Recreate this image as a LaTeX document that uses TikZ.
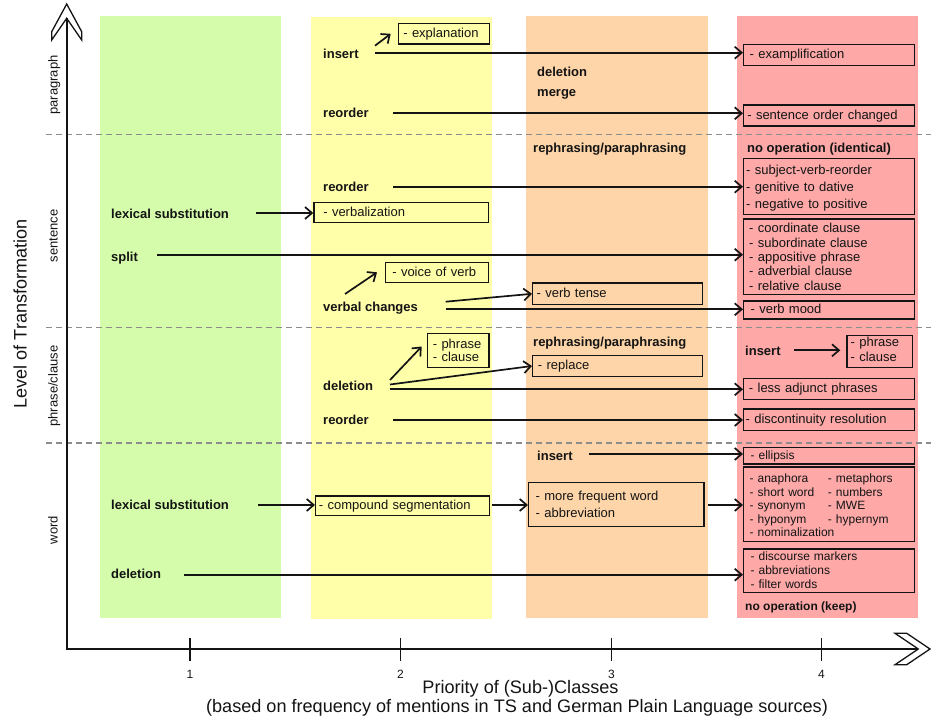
\documentclass[tikz,border=0pt]{standalone}
\usepackage{fontspec}
\setmainfont{Liberation Sans}
\usetikzlibrary{arrows.meta}

\definecolor{bandgreen}{RGB}{213,252,171}
\definecolor{bandyellow}{RGB}{255,255,170}
\definecolor{bandorange}{RGB}{254,213,168}
\definecolor{bandred}{RGB}{254,168,168}
\definecolor{ink}{RGB}{20,20,20}
\definecolor{sepgray}{RGB}{140,140,140}

\tikzset{
  op/.style={anchor=west, inner sep=0pt, text=ink, yshift=-2.5pt,
    font=\fontsize{13}{15.6}\selectfont\bfseries, text height=.75em, text depth=.15em},
  opsm/.style={op, font=\fontsize{12}{14.4}\selectfont\bfseries},
  leaf/.style={draw=ink, line width=1.3pt, anchor=north west, inner ysep=0pt,
    align=left, text=ink, font=\fontsize{13}{15.6}\selectfont},
  oneline/.style={text height=.9em, text depth=.12em},
  flow/.style={draw=ink, line width=1.7pt, -{Straight Barb[length=7pt,width=12pt]}},
  levelsep/.style={draw=sepgray, line width=1.2pt, dash pattern=on 6pt off 4pt},
  axisline/.style={draw=ink, line width=1.8pt},
  axishead/.style={draw=ink, line width=1.3pt, line join=miter},
  tickmark/.style={draw=ink, line width=1.5pt},
  level/.style={rotate=90, anchor=base, inner sep=0pt, text=ink,
    font=\fontsize{13}{15.6}\selectfont},
  ticklabel/.style={anchor=base, inner sep=0pt, text=ink, font=\fontsize{12}{14}\selectfont},
  axistitle/.style={inner sep=0pt, text=ink, font=\fontsize{18.1}{18.5}\selectfont}
}

\begin{document}
\begin{tikzpicture}[x=1pt,y=-1pt]
\useasboundingbox (0,0) rectangle (931,719);

% priority bands
\fill[bandgreen]  (100,16) rectangle (281,618);
\fill[bandyellow] (311,17) rectangle (492,619);
\fill[bandorange] (526,16) rectangle (708,618);
\fill[bandred]    (737,16) rectangle (918,618);

% level separators
\draw[levelsep] (46,134.5) -- (931,134.5);
\draw[levelsep] (46,327.5) -- (931,327.5);
\draw[levelsep] (46,443)   -- (931,443);

% axes
\coordinate (O) at (66.7,649);
\coordinate (ytip) at (66.7,18.3);
\coordinate (xtip) at (918.3,649);
\draw[axisline] (ytip) -- (O) -- (xtip);
\draw[axishead] (66.7,4) -- (81.7,31.7) -- (81.7,40) -- (66.7,18.3)
  -- (51.7,40) -- (51.7,31.7) -- cycle;
\draw[axishead] (930,649) -- (906.7,633.3) -- (895,633.3) -- (918.3,649)
  -- (895,664.7) -- (906.7,664.7) -- cycle;

% ticks and tick labels
\foreach \x/\n in {190/1, 400.5/2, 611.5/3, 821.5/4} {
  \draw[tickmark] (\x,638) -- (\x,661);
  \node[ticklabel] (tick\n) at (\x,678.5) {\n};
}

% axis titles
\node[axistitle, rotate=90, anchor=base] (ytitle) at (26.7,314) {Level of Transformation};
\node[axistitle, align=center] (xtitle) at (517,698.5)
  {\hspace*{7pt}Priority of (Sub-)Classes\\(based on frequency of mentions in TS and German Plain Language sources)};

% level names
\node[level] (lvP) at (57.5,85)  {paragraph};
\node[level] (lvS) at (57.5,236) {sentence};
\node[level] (lvC) at (57.5,386) {phrase/clause};
\node[level] (lvW) at (57.5,530) {word};

% ---------- paragraph ----------
\node[op] (insP)  at (323,53)    {insert};
\node[op] (delP)  at (537,70.7)  {deletion};
\node[op] (merge) at (537,90.7)  {merge};
\node[op] (reoP)  at (323,111.7) {reorder};

\node[leaf, oneline, inner xsep=5, minimum width=91.3, minimum height=20.3, text width=81.3]
  (expl) at (397.7,23) {- explanation};
\node[leaf, oneline, inner xsep=6, minimum width=171, minimum height=20.7, text width=159]
  (exampl) at (743,44) {- examplification};
\node[leaf, oneline, inner xsep=3.7, minimum width=171, minimum height=21, text width=163.6]
  (sentord) at (743,104.3) {- sentence order changed};

% ---------- sentence ----------
\node[op] (rephS) at (533,146.7) {rephrasing/paraphrasing};
\node[op] (noopS) at (747,146.7) {no operation (identical)};
\node[op] (reoS)  at (323,185.7) {reorder};
\node[op] (lexS)  at (111,212.7) {lexical substitution};
\node[op] (split) at (111,255.7) {split};
\node[op] (verbc) at (323,305.7) {verbal changes};

\node[leaf, inner xsep=2.5, minimum width=171, minimum height=56, text width=166,
  text height=10pt, text depth=33.7pt, font=\fontsize{13}{17}\selectfont]
  (svr) at (743,157.7) {- subject-verb-reorder\\- genitive to dative\\- negative to positive};
\node[leaf, oneline, inner xsep=9.4, minimum width=174.4, minimum height=20, text width=155.6]
  (verbal) at (313.3,201.7) {- verbalization};
\node[leaf, inner xsep=5.5, minimum width=171, minimum height=75.7, text width=160,
  font=\fontsize{13}{14.3}\selectfont]
  (clauses) at (743,218.3) {- coordinate clause\\- subordinate clause\\- appositive phrase\\- adverbial clause\\- relative clause};
\node[leaf, oneline, inner xsep=6.7, minimum width=102.7, minimum height=20, text width=89.3]
  (voice) at (385,261.7) {- voice of verb};
\node[leaf, oneline, inner xsep=4, minimum width=169.7, minimum height=21.7, text width=161.7]
  (tense) at (532,282.3) {- verb tense};
\node[leaf, oneline, inner xsep=7, minimum width=171, minimum height=18, text width=157]
  (mood) at (743,300.3) {- verb mood};

% ---------- phrase/clause ----------
\node[op] (rephC) at (533,340.7) {rephrasing/paraphrasing};
\node[op] (delC)  at (323,384.7) {deletion};
\node[op] (insC)  at (745,349.7) {insert};
\node[op] (reoC)  at (323,418.7) {reorder};

\node[leaf, inner xsep=5.5, minimum width=61.6, minimum height=34.3, text width=50.6,
  font=\fontsize{13}{13}\selectfont]
  (phcl1) at (426.7,332.7) {- phrase\\- clause};
\node[leaf, oneline, inner xsep=5.3, minimum width=169.7, minimum height=21.3, text width=159.1]
  (replace) at (532,354.7) {- replace};
\node[leaf, oneline, inner xsep=5.3, minimum width=171, minimum height=21.3, text width=160.4]
  (adjunct) at (743,377.7) {- less adjunct phrases};
\node[leaf, inner xsep=3.7, minimum width=65.4, minimum height=32, text width=58,
  text height=9.5pt, text depth=18.9pt, font=\fontsize{13}{14.5}\selectfont]
  (phcl2) at (846.3,334.7) {- phrase\\- clause};
\node[leaf, oneline, inner xsep=2, minimum width=171, minimum height=21.7, text width=167]
  (discont) at (743,408.3) {- discontinuity resolution};

% ---------- word ----------
\node[op]   (insW)  at (537,454.7) {insert};
\node[op]   (lexW)  at (111,503.7) {lexical substitution};
\node[op]   (delW)  at (111,572.7) {deletion};
\node[opsm] (noopW) at (745,604.7) {no operation (keep)};

\node[leaf, oneline, inner xsep=7, minimum width=171, minimum height=16.6, text width=157,
  font=\fontsize{12}{14}\selectfont]
  (ellipsis) at (743,446.7) {- ellipsis};
\node[leaf, inner xsep=6, minimum width=171, minimum height=74.4, text width=159,
  text height=9pt, text depth=51.4pt, font=\fontsize{12}{13.35}\selectfont]
  (lexbig) at (743,466.3) {\begin{tabular}[t]{@{}p{78.3pt}@{}l@{}}
    - anaphora & - metaphors\\
    - short word & - numbers\\
    - synonym & - MWE\\
    - hyponym & - hypernym\\
    \multicolumn{2}{@{}l@{}}{- nominalization}
  \end{tabular}};
\node[leaf, oneline, inner xsep=3.3, minimum width=174, minimum height=19.7, text width=167.4]
  (compound) at (315,495.3) {- compound segmentation};
\node[leaf, inner xsep=7, minimum width=175.3, minimum height=43.7, text width=161.3,
  font=\fontsize{13}{17.4}\selectfont]
  (freq) at (528,482) {- more frequent word\\- abbreviation};
\node[leaf, inner xsep=7, minimum width=171, minimum height=43.4, text width=157,
  font=\fontsize{12}{14}\selectfont]
  (disc) at (743,548.3) {- discourse markers\\- abbreviations\\- filter words};

% ---------- connector start points ----------
\coordinate (o-insP-a)  at (375,45.7);
\coordinate (o-insP-b)  at (375,52.7);
\coordinate (o-reoP)    at (393,113.3);
\coordinate (o-reoS)    at (393,186.7);
\coordinate (o-lexS)    at (256,213);
\coordinate (o-split)   at (157,254.7);
\coordinate (o-verbc-a) at (345,294);
\coordinate (o-verbc-b) at (445.7,301.7);
\coordinate (o-verbc-c) at (445.7,309.3);
\coordinate (o-delC-a)  at (390,380);
\coordinate (o-delC-b)  at (390,384.5);
\coordinate (o-delC-c)  at (390,389.3);
\coordinate (o-insC)    at (794,350.3);
\coordinate (o-reoC)    at (393,420);
\coordinate (o-insW)    at (589,454);
\coordinate (o-lexW)    at (258,505);
\coordinate (o-cmp)     at (492.3,505);
\coordinate (o-freq)    at (708.3,505);
\coordinate (o-delW)    at (184.3,574.7);

% ---------- connectors ----------
\draw[flow] (o-insP-a) -- ([xshift=-7pt]expl.west);
\draw[flow] (o-insP-b) -- (o-insP-b -| exampl.west);
\draw[flow] (o-reoP) -- (o-reoP -| sentord.west);
\draw[flow] (o-reoS) -- (o-reoS -| svr.west);
\draw[flow] (o-lexS) -- (o-lexS -| verbal.west);
\draw[flow] (o-split) -- (o-split -| clauses.west);
\draw[flow] (o-verbc-a) -- ([xshift=-8pt]voice.west);
\draw[flow] (o-verbc-b) -- (tense.west);
\draw[flow] (o-verbc-c) -- (o-verbc-c -| mood.west);
\draw[flow] (o-delC-a) -- ([shift={(-5pt,4pt)}]phcl1.west);
\draw[flow] (o-delC-b) -- (replace.west);
\draw[flow] (o-delC-c) -- (o-delC-c -| adjunct.west);
\draw[flow] (o-insC) -- ([xshift=-6pt]o-insC -| phcl2.west);
\draw[flow] (o-reoC) -- (o-reoC -| discont.west);
\draw[flow] (o-insW) -- (o-insW -| ellipsis.west);
\draw[flow] (o-lexW) -- (o-lexW -| compound.west);
\draw[flow] (o-cmp) -- (o-cmp -| freq.west);
\draw[flow] (o-freq) -- (o-freq -| lexbig.west);
\draw[flow] (o-delW) -- (o-delW -| disc.west);

\end{tikzpicture}
\end{document}
